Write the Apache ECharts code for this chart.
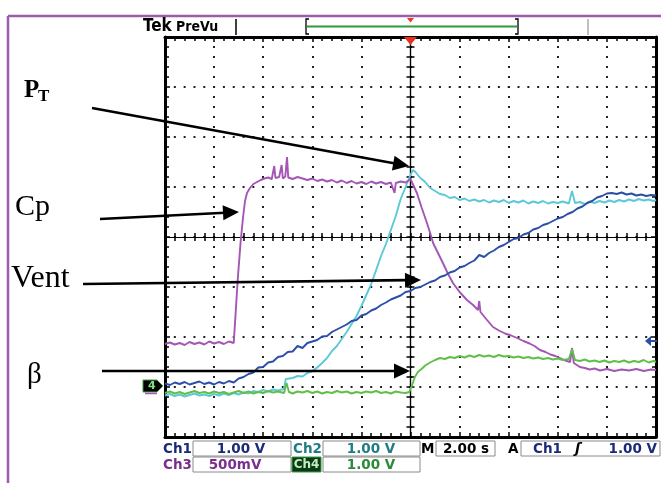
<!DOCTYPE html>
<html><head><meta charset="utf-8">
<script src="https://cdn.jsdelivr.net/npm/echarts@6/dist/echarts.min.js"></script>
<style>html,body{margin:0;padding:0;background:#fff}#c{width:661px;height:483px}</style>
</head><body><div id="c"></div>
<script>
// time in seconds (2.00 s/div, 10 div), values in screen divisions (-4..4)
const ch1Vent = [[0,-2.93],[0.2,-2.96],[0.4,-2.91],[0.6,-2.94],[0.8,-2.90],[1.0,-2.95],[1.2,-2.92],[1.4,-2.89],[1.6,-2.94],[1.8,-2.91],[2.0,-2.95],[2.2,-2.90],[2.4,-2.93],[2.6,-2.88],[2.8,-2.91],[3.0,-2.83],[3.2,-2.80],[3.4,-2.74],[3.6,-2.71],[3.8,-2.61],[4.0,-2.60],[4.2,-2.51],[4.4,-2.49],[4.6,-2.40],[4.8,-2.38],[5.0,-2.30],[5.2,-2.29],[5.4,-2.18],[5.6,-2.22],[5.8,-2.12],[6.0,-2.09],[6.2,-2.06],[6.4,-1.99],[6.6,-1.98],[6.8,-1.90],[7.0,-1.85],[7.2,-1.80],[7.4,-1.75],[7.6,-1.68],[7.8,-1.66],[8.0,-1.57],[8.2,-1.54],[8.4,-1.47],[8.6,-1.43],[8.8,-1.36],[9.0,-1.31],[9.2,-1.25],[9.4,-1.21],[9.6,-1.17],[9.8,-1.10],[10.0,-1.08],[10.2,-1.02],[10.4,-1.00],[10.6,-0.95],[10.8,-0.90],[11.0,-0.87],[11.2,-0.80],[11.4,-0.77],[11.6,-0.71],[11.8,-0.68],[12.0,-0.61],[12.2,-0.58],[12.4,-0.52],[12.6,-0.47],[12.8,-0.36],[13.0,-0.40],[13.2,-0.32],[13.4,-0.27],[13.6,-0.20],[13.8,-0.16],[14.0,-0.10],[14.2,-0.04],[14.4,-0.02],[14.6,0.05],[14.8,0.08],[15.0,0.15],[15.2,0.18],[15.4,0.24],[15.6,0.27],[15.8,0.32],[16.0,0.37],[16.2,0.40],[16.4,0.46],[16.6,0.50],[16.8,0.57],[17.0,0.61],[17.2,0.68],[17.4,0.72],[17.6,0.79],[17.8,0.82],[18.0,0.87],[18.2,0.88],[18.4,0.86],[18.6,0.89],[18.8,0.85],[19.0,0.87],[19.2,0.83],[19.4,0.85],[19.6,0.82],[19.8,0.84],[20.0,0.83]];
const ch2Pt = [[0,-3.17],[0.2,-3.14],[0.4,-3.18],[0.6,-3.15],[0.8,-3.19],[1.0,-3.16],[1.2,-3.13],[1.4,-3.17],[1.6,-3.15],[1.8,-3.18],[2.0,-3.14],[2.2,-3.17],[2.4,-3.13],[2.6,-3.16],[2.8,-3.12],[3.0,-3.15],[3.2,-3.11],[3.4,-3.13],[3.6,-3.08],[3.8,-3.10],[4.0,-3.06],[4.2,-3.09],[4.4,-3.05],[4.6,-3.07],[4.85,-3.04],[4.92,-2.84],[5.0,-2.80],[5.2,-2.82],[5.4,-2.78],[5.6,-2.79],[5.8,-2.72],[6.0,-2.68],[6.2,-2.61],[6.4,-2.52],[6.6,-2.42],[6.8,-2.28],[7.0,-2.18],[7.2,-2.04],[7.4,-1.90],[7.6,-1.74],[7.8,-1.58],[8.0,-1.38],[8.2,-1.16],[8.4,-0.94],[8.6,-0.66],[8.8,-0.38],[9.0,-0.14],[9.2,0.14],[9.4,0.42],[9.6,0.76],[9.8,1.00],[10.0,1.24],[10.1,1.34],[10.2,1.30],[10.4,1.18],[10.6,1.10],[10.8,0.98],[11.0,0.92],[11.2,0.86],[11.4,0.84],[11.6,0.78],[11.8,0.80],[12.0,0.74],[12.2,0.77],[12.4,0.72],[12.6,0.75],[12.8,0.71],[13.0,0.74],[13.2,0.69],[13.4,0.73],[13.6,0.70],[13.8,0.74],[14.0,0.68],[14.2,0.72],[14.4,0.69],[14.6,0.73],[14.8,0.67],[15.0,0.71],[15.2,0.68],[15.4,0.72],[15.6,0.67],[15.8,0.70],[16.0,0.68],[16.2,0.71],[16.45,0.67],[16.58,0.92],[16.7,0.68],[16.9,0.70],[17.1,0.66],[17.3,0.71],[17.5,0.68],[17.7,0.72],[17.9,0.69],[18.1,0.73],[18.3,0.70],[18.5,0.74],[18.7,0.71],[18.9,0.75],[19.1,0.72],[19.3,0.76],[19.5,0.73],[19.7,0.75],[19.9,0.72],[20.0,0.74]];
const ch3Cp = [[0,-2.14],[0.2,-2.11],[0.4,-2.15],[0.6,-2.12],[0.8,-2.16],[1.0,-2.10],[1.2,-2.14],[1.4,-2.11],[1.6,-2.15],[1.8,-2.09],[2.0,-2.13],[2.2,-2.10],[2.4,-2.14],[2.6,-2.09],[2.8,-2.12],[2.88,-2.12],[2.97,-0.80],[3.08,-0.10],[3.18,0.40],[3.26,0.72],[3.34,0.88],[3.46,0.98],[3.6,1.06],[3.75,1.10],[3.9,1.14],[4.05,1.17],[4.2,1.19],[4.35,1.16],[4.45,1.42],[4.5,1.18],[4.65,1.20],[4.75,1.44],[4.8,1.17],[4.9,1.21],[4.97,1.60],[5.02,1.19],[5.2,1.16],[5.4,1.20],[5.6,1.17],[5.8,1.14],[6.0,1.17],[6.2,1.12],[6.4,1.15],[6.6,1.11],[6.8,1.14],[7.0,1.09],[7.2,1.13],[7.4,1.08],[7.6,1.12],[7.8,1.07],[8.0,1.10],[8.2,1.06],[8.4,1.11],[8.6,1.07],[8.8,1.10],[9.0,1.06],[9.2,1.09],[9.35,0.88],[9.4,1.08],[9.6,1.11],[9.8,1.09],[10.0,1.16],[10.06,1.18],[10.26,0.88],[10.46,0.58],[10.67,0.28],[10.8,0.08],[10.92,-0.12],[11.12,-0.32],[11.32,-0.52],[11.52,-0.73],[11.73,-0.92],[12.0,-1.10],[12.3,-1.26],[12.55,-1.36],[12.75,-1.46],[12.8,-1.28],[12.85,-1.50],[13.1,-1.65],[13.36,-1.80],[13.6,-1.87],[13.85,-1.93],[14.1,-1.97],[14.34,-2.02],[14.6,-2.08],[14.85,-2.13],[15.05,-2.18],[15.27,-2.26],[15.5,-2.30],[15.7,-2.35],[15.9,-2.38],[16.09,-2.42],[16.3,-2.47],[16.5,-2.50],[16.58,-2.22],[16.65,-2.52],[16.9,-2.60],[17.1,-2.62],[17.3,-2.65],[17.5,-2.63],[17.72,-2.67],[18.0,-2.64],[18.3,-2.68],[18.6,-2.65],[18.9,-2.67],[19.2,-2.64],[19.5,-2.68],[19.8,-2.65],[20.0,-2.66]];
const ch4Beta = [[0,-3.12],[0.2,-3.09],[0.4,-3.13],[0.6,-3.10],[0.8,-3.14],[1.0,-3.11],[1.2,-3.08],[1.4,-3.12],[1.6,-3.10],[1.8,-3.13],[2.0,-3.09],[2.2,-3.12],[2.4,-3.10],[2.6,-3.14],[2.8,-3.11],[3.0,-3.08],[3.2,-3.12],[3.4,-3.09],[3.6,-3.13],[3.8,-3.10],[4.0,-3.12],[4.2,-3.08],[4.4,-3.11],[4.6,-3.09],[4.85,-3.12],[4.95,-2.92],[5.05,-3.10],[5.2,-3.13],[5.4,-3.09],[5.6,-3.11],[5.8,-3.08],[6.0,-3.12],[6.2,-3.09],[6.4,-3.13],[6.6,-3.10],[6.8,-3.12],[7.0,-3.08],[7.2,-3.11],[7.4,-3.09],[7.6,-3.13],[7.8,-3.10],[8.0,-3.12],[8.2,-3.09],[8.4,-3.11],[8.6,-3.08],[8.8,-3.12],[9.0,-3.10],[9.2,-3.13],[9.4,-3.09],[9.6,-3.11],[9.8,-3.12],[9.95,-3.10],[10.05,-2.98],[10.18,-2.80],[10.3,-2.70],[10.45,-2.64],[10.6,-2.57],[10.8,-2.51],[11.0,-2.46],[11.2,-2.42],[11.4,-2.44],[11.6,-2.40],[11.8,-2.42],[12.0,-2.38],[12.2,-2.41],[12.4,-2.37],[12.6,-2.40],[12.8,-2.36],[13.0,-2.39],[13.2,-2.37],[13.4,-2.40],[13.6,-2.36],[13.8,-2.39],[14.0,-2.38],[14.2,-2.41],[14.4,-2.39],[14.6,-2.42],[14.8,-2.40],[15.0,-2.43],[15.2,-2.41],[15.4,-2.44],[15.6,-2.42],[15.8,-2.45],[16.0,-2.43],[16.2,-2.46],[16.45,-2.44],[16.58,-2.24],[16.7,-2.46],[16.9,-2.48],[17.1,-2.45],[17.3,-2.49],[17.5,-2.47],[17.7,-2.50],[17.9,-2.47],[18.1,-2.51],[18.3,-2.48],[18.5,-2.50],[18.7,-2.47],[18.9,-2.51],[19.1,-2.48],[19.3,-2.50],[19.5,-2.46],[19.7,-2.51],[19.9,-2.48],[20.0,-2.50]];

const channelNames = ['Ch1','Ch2','Ch3','Ch4'];
const channelScales = ['1.00 V','1.00 V','500mV','1.00 V'];
const timeBase = '2.00 s';
const triggerLevel = '1.00 V';
const annotations = ['Cp','Vent','\u03b2'];

const C1='#2b4ea8', C2='#5cc8d8', C3='#a456b4', C4='#5fbf48';
const chart = echarts.init(document.getElementById('c'));
const G = {left:165, top:37, width:491, height:400};

function arrow(p0,p1){
  const head=16, half=7.5;
  const dx=p1[0]-p0[0], dy=p1[1]-p0[1], L=Math.hypot(dx,dy), ux=dx/L, uy=dy/L;
  const bx=p1[0]-ux*head, by=p1[1]-uy*head;
  return [
    {type:'line', z:100, shape:{x1:p0[0],y1:p0[1],x2:bx+ux*2,y2:by+uy*2}, style:{stroke:'#000', lineWidth:2.6}},
    {type:'polygon', z:100, shape:{points:[p1,[bx-uy*half,by+ux*half],[bx+uy*half,by-ux*half]]}, style:{fill:'#000'}}
  ];
}
function txt(x,y,t,font,fill,align){
  return {type:'text', z:101, x:x, y:y, style:{text:t, font:font, fill:fill||'#000', align:align||'left', verticalAlign:'middle'}};
}
function box(x,y,w,h){
  return {type:'rect', z:99, shape:{x:x,y:y,width:w,height:h}, style:{fill:'#fff', stroke:'#8a8a8a', lineWidth:1}};
}
const SB='bold 13.5px "DejaVu Sans"';
const graphics = [
  // outer frame
  {type:'line', z:90, shape:{x1:8,y1:16,x2:661,y2:16}, style:{stroke:'#9a5cae', lineWidth:2.5}},
  {type:'line', z:90, shape:{x1:8,y1:16,x2:8,y2:483}, style:{stroke:'#9a5cae', lineWidth:2.5}},
  // header
  txt(143,27,'Tek','bold 17px "DejaVu Sans Condensed","DejaVu Sans"','#000'),
  txt(176,27,'PreVu','bold 14px "DejaVu Sans Condensed","DejaVu Sans"','#000'),
  {type:'line', z:100, shape:{x1:236,y1:19,x2:236,y2:35}, style:{stroke:'#000', lineWidth:1.5}},
  {type:'polyline', z:100, shape:{points:[[309,19],[306,19],[306,34],[309,34]]}, style:{stroke:'#000', lineWidth:1.3, fill:null}},
  {type:'polyline', z:100, shape:{points:[[515,19],[518,19],[518,34],[515,34]]}, style:{stroke:'#000', lineWidth:1.3, fill:null}},
  {type:'line', z:100, shape:{x1:307,y1:26.5,x2:517,y2:26.5}, style:{stroke:'#2a9a3a', lineWidth:2}},
  {type:'polygon', z:100, shape:{points:[[407,18],[414,18],[410.5,22.5]]}, style:{fill:'#e83a20'}},
  {type:'line', z:100, shape:{x1:588,y1:19,x2:588,y2:35}, style:{stroke:'#aaa', lineWidth:1.5}},
  {type:'polygon', z:100, shape:{points:[[404,37],[417,37],[410.5,45]]}, style:{fill:'#e8301e'}},
  // annotation labels
  txt(24,91,'P','bold 25px "Liberation Serif"'),
  txt(38,97,'T','bold 17px "Liberation Serif"'),
  txt(15,207,annotations[0],'30px "Liberation Serif"'),
  txt(11,279,annotations[1],'32px "Liberation Serif"'),
  txt(27,375,annotations[2],'29px "Liberation Serif"'),
  ...arrow([92,108],[409,166]),
  ...arrow([100,219],[239,212]),
  ...arrow([83,284],[421,280]),
  ...arrow([102,371],[410,371]),
  // Ch4 ground marker
  {type:'polygon', z:100, shape:{points:[[143,380],[157,380],[163,386],[157,392],[143,392]]}, style:{fill:'#000', stroke:'#3aa040', lineWidth:1}},
  {type:'line', z:100, shape:{x1:145,y1:393.5,x2:157,y2:393.5}, style:{stroke:C3, lineWidth:1.5}},
  txt(148,386.5,'4','bold 11px "DejaVu Sans"','#7fe07f'),
  // Ch1 trigger level marker
  {type:'polygon', z:100, shape:{points:[[645,341],[651,336],[651,346]]}, style:{fill:C1}},
  {type:'line', z:100, shape:{x1:650,y1:341,x2:657,y2:341}, style:{stroke:C1, lineWidth:2}},
  // status bar
  box(193,441,98,15), box(323,441,97,15), box(436,441,59,15), box(521,441,139,15),
  box(193,457,98,15), box(323,457,97,15),
  {type:'rect', z:99, shape:{x:292,y:457,width:29,height:15}, style:{fill:'#0c3a16', stroke:'#3aa040', lineWidth:1}},
  txt(163,449,channelNames[0],SB,'#1b2a78'),
  txt(241,449,channelScales[0],SB,'#1b2a78','center'),
  txt(293,449,channelNames[1],SB,'#1f7c84'),
  txt(371,449,channelScales[1],SB,'#1f7c84','center'),
  txt(421,449,'M',SB,'#000'),
  txt(466,449,timeBase,SB,'#000','center'),
  txt(508,449,'A',SB,'#000'),
  txt(533,449,channelNames[0],SB,'#1b2a78'),
  txt(575,449,'\u0283','bold italic 14px "DejaVu Sans"','#000'),
  txt(657,449,triggerLevel,SB,'#1b2a78','right'),
  txt(163,465,channelNames[2],SB,'#7b2f8c'),
  txt(235,465,channelScales[2],SB,'#7b2f8c','center'),
  txt(306.5,465,channelNames[3],'bold 12px "DejaVu Sans"','#bfeebf','center'),
  txt(371,465,channelScales[3],SB,'#2a8a3a','center')
];

const dotH = {color:'#222', width:2, type:[2,7.82], dashOffset:1};
const dotV = {color:'#222', width:2, type:[2,8], dashOffset:1};
function borderX(pos, split){
  return {type:'value', gridIndex:0, position:pos, min:0, max:20, interval:2,
    axisLine:{show:true, onZero:false, lineStyle:{color:'#000', width:3}},
    axisTick:{show:true, inside:true, length:5, lineStyle:{color:'#000', width:1.5}},
    minorTick:{show:true, splitNumber:5, length:4, lineStyle:{color:'#000', width:1.5}},
    axisLabel:{show:false}, splitLine:{show:split, lineStyle:dotV}, minorSplitLine:{show:false}};
}
function borderY(pos, split){
  return {type:'value', gridIndex:0, position:pos, min:-4, max:4, interval:1,
    axisLine:{show:true, onZero:false, lineStyle:{color:'#000', width:3}},
    axisTick:{show:true, inside:true, length:5, lineStyle:{color:'#000', width:1.5}},
    minorTick:{show:true, splitNumber:5, length:4, lineStyle:{color:'#000', width:1.5}},
    axisLabel:{show:false}, splitLine:{show:split, lineStyle:dotH}, minorSplitLine:{show:false}};
}
function centerX(gi, inside){
  return {type:'value', gridIndex:gi, min:-10, max:10, interval:2,
    axisLine:{show:true, onZero:true, lineStyle:{color:'#000', width:1.2}},
    axisTick:{show:true, inside:inside, length:4, lineStyle:{color:'#000', width:1.5}},
    minorTick:{show:true, splitNumber:5, length:4, lineStyle:{color:'#000', width:1.5}},
    axisLabel:{show:false}, splitLine:{show:false}};
}
function centerY(gi, inside){
  return {type:'value', gridIndex:gi, min:-4, max:4, interval:1,
    axisLine:{show:true, onZero:true, lineStyle:{color:'#000', width:1.2}},
    axisTick:{show:true, inside:inside, length:4, lineStyle:{color:'#000', width:1.5}},
    minorTick:{show:true, splitNumber:5, length:4, lineStyle:{color:'#000', width:1.5}},
    axisLabel:{show:false}, splitLine:{show:false}};
}
function ser(name, data, color){
  return {name:name, type:'line', xAxisIndex:0, yAxisIndex:0, data:data, showSymbol:false, symbol:'none',
    lineStyle:{color:color, width:1.9}, itemStyle:{color:color}, z:5, clip:true};
}
chart.setOption({
  animation:false,
  backgroundColor:'#fff',
  grid:[Object.assign({show:false},G), Object.assign({show:false},G), Object.assign({show:false},G)],
  xAxis:[borderX('bottom',true), borderX('top',false), centerX(1,true), centerX(2,false)],
  yAxis:[borderY('left',true), borderY('right',false), centerY(1,true), centerY(2,false)],
  series:[ser('Ch2',ch2Pt,C2), ser('Ch3',ch3Cp,C3), ser('Ch4',ch4Beta,C4), ser('Ch1',ch1Vent,C1)],
  graphic:graphics
});
</script></body></html>
